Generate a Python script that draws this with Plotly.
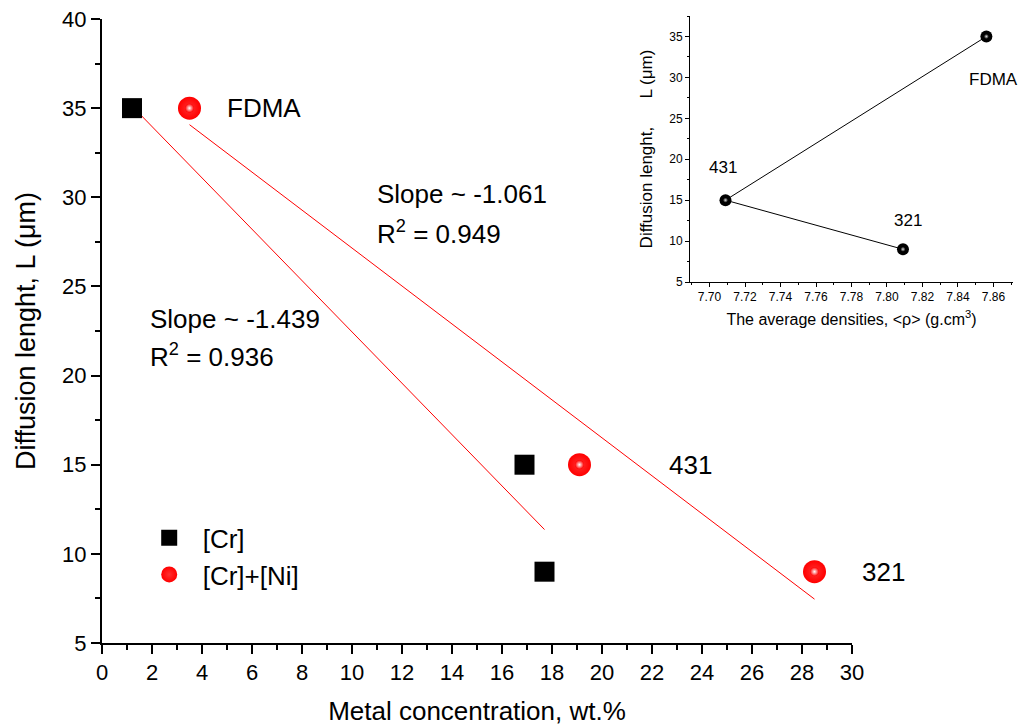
import numpy as np
import plotly.graph_objects as go

# ---- data ----
cr_x = [1.2, 16.9, 17.7]
cr_y = [35, 15, 9]
crni_x = [3.5, 19.1, 28.5]
crni_y = [35, 15, 9]
steel_labels = ["FDMA", "431", "321"]

dens_x = [7.856, 7.709, 7.809]
dens_y = [35, 15, 9]

cr_slope_txt = "Slope ~ -1.439"
cr_r2_txt = "R<sup>2</sup> = 0.936"
crni_slope_txt = "Slope ~ -1.061"
crni_r2_txt = "R<sup>2</sup> = 0.949"

MAIN_FONT = "Liberation Sans, Arial, sans-serif"
NARROW_FONT = "Liberation Sans Narrow, Arial Narrow, Liberation Sans, sans-serif"

PLOT_L, PLOT_R, PLOT_T, PLOT_B = 102, 1013, 15, 643
PW, PH = PLOT_R - PLOT_L, PLOT_B - PLOT_T


def fit_line(xs, ys):
    k, b = np.polyfit(xs, ys, 1)
    xx = np.array([min(xs), max(xs)])
    return xx, k * xx + b


fig = go.Figure()

# fitted lines
fx, fy = fit_line(cr_x, cr_y)
fig.add_trace(go.Scatter(x=fx, y=fy, mode="lines", line=dict(color="red", width=1),
                         showlegend=False, hoverinfo="skip"))
fx, fy = fit_line(crni_x, crni_y)
fig.add_trace(go.Scatter(x=fx, y=fy, mode="lines", line=dict(color="red", width=1),
                         showlegend=False, hoverinfo="skip"))

# markers
fig.add_trace(go.Scatter(x=cr_x, y=cr_y, mode="markers", name="[Cr]",
                         marker=dict(symbol="square", size=20, color="black", line=dict(width=0))))
fig.add_trace(go.Scatter(x=crni_x, y=crni_y, mode="markers", name="[Cr]+[Ni]",
                         marker=dict(symbol="circle", size=23, color="#ff0000", line=dict(width=0),
                                     gradient=dict(type="radial", color="#ff3030"))))
fig.add_trace(go.Scatter(x=crni_x, y=crni_y, mode="markers", showlegend=False, hoverinfo="skip",
                         marker=dict(symbol="circle", size=9, color="#ff0000", line=dict(width=0),
                                     gradient=dict(type="radial", color="white"))))

# inset
fig.add_trace(go.Scatter(x=dens_x, y=dens_y, mode="lines+markers", xaxis="x2", yaxis="y2",
                         showlegend=False, line=dict(color="black", width=1),
                         marker=dict(size=12, color="black")))
fig.add_trace(go.Scatter(x=dens_x, y=dens_y, mode="markers", xaxis="x2", yaxis="y2",
                         showlegend=False, hoverinfo="skip",
                         marker=dict(size=5, color="black", gradient=dict(type="radial", color="#dddddd"))))

annotations = []
txt_font = dict(family=MAIN_FONT, size=26, color="black")
# main labels (FDMA, 431 in data coords; 321 lies beyond the x range -> paper coords)
annotations.append(dict(x=4.9, y=35, xref="x", yref="y", text=steel_labels[0], showarrow=False,
                        xanchor="left", yanchor="middle", font=txt_font))
annotations.append(dict(x=22.6, y=15, xref="x", yref="y", text=steel_labels[1], showarrow=False,
                        xanchor="left", yanchor="middle", font=txt_font))
annotations.append(dict(x=(860 - PLOT_L) / PW, y=9, xref="paper", yref="y", text=steel_labels[2],
                        showarrow=False, xanchor="left", yanchor="middle", font=txt_font))
for t, ax_, ay_ in [(crni_slope_txt, 10.9, 30.17), (crni_r2_txt, 10.9, 28.0),
                    (cr_slope_txt, 1.84, 23.2), (cr_r2_txt, 1.84, 21.1)]:
    annotations.append(dict(x=ax_, y=ay_, xref="x", yref="y", text=t, showarrow=False,
                            xanchor="left", yanchor="middle", font=txt_font))
# inset labels
label_pos_inset = [(7.8600, 29.8), (7.7077, 19.05), (7.8117, 12.55)]
for t, (ax_, ay_) in zip(steel_labels, label_pos_inset):
    annotations.append(dict(x=ax_, y=ay_, xref="x2", yref="y2", text=t, showarrow=False,
                            xanchor="center", yanchor="middle",
                            font=dict(family=NARROW_FONT, size=17, color="black")))

axis_common = dict(showline=True, linecolor="black", showgrid=False, zeroline=False,
                   ticks="outside", tickcolor="black", mirror=False, automargin=False)

fig.update_layout(
    width=1019, height=726,
    paper_bgcolor="white", plot_bgcolor="rgba(0,0,0,0)",
    margin=dict(l=PLOT_L, r=1019 - PLOT_R, t=PLOT_T, b=726 - PLOT_B, autoexpand=False),
    font=dict(family=MAIN_FONT, color="black"),
    xaxis=dict(domain=[0, 750 / PW], range=[0, 30], dtick=2, linewidth=2, tickwidth=2, ticklen=9,
               tickfont=dict(size=22),
               minor=dict(ticks="outside", dtick=1, ticklen=5, tickwidth=2, tickcolor="black"),
               title=dict(text="Metal concentration, wt.%", font=dict(size=26), standoff=18),
               anchor="y", **axis_common),
    yaxis=dict(domain=[0, (PLOT_B - 19) / PH], range=[5, 40], dtick=5, linewidth=2, tickwidth=2,
               ticklen=9, tickfont=dict(size=22),
               minor=dict(ticks="outside", dtick=2.5, ticklen=5, tickwidth=2, tickcolor="black"),
               title=dict(text="Diffusion lenght, L (μm)", font=dict(size=27), standoff=19),
               anchor="x", **axis_common),
    xaxis2=dict(domain=[(690 - PLOT_L) / PW, 1.0], range=[7.689, 7.871], dtick=0.02, tick0=7.70,
                tickformat=".2f", linewidth=1, tickwidth=1, ticklen=4,
                tickfont=dict(size=12, family=NARROW_FONT),
                minor=dict(ticks="outside", dtick=0.01, ticklen=2, tickwidth=1, tickcolor="black"),
                title=dict(text="The average densities, <ρ> (g.cm<sup>3</sup>)",
                           font=dict(size=16, family=NARROW_FONT), standoff=10),
                anchor="y2", **axis_common),
    yaxis2=dict(domain=[(PLOT_B - 282) / PH, (PLOT_B - 16) / PH], range=[5, 37.5], dtick=5,
                linewidth=1, tickwidth=1, ticklen=4,
                tickfont=dict(size=12, family=NARROW_FONT),
                minor=dict(ticks="outside", dtick=2.5, ticklen=2, tickwidth=1, tickcolor="black"),
                title=dict(text="Diffusion lenght,      L (μm)",
                           font=dict(size=17, family=NARROW_FONT), standoff=12),
                anchor="x2", **axis_common),
    legend=dict(x=0.037, y=0.205, xanchor="left", yanchor="top", bgcolor="rgba(0,0,0,0)",
                font=dict(size=26, family=MAIN_FONT), itemwidth=57, tracegroupgap=0),
    annotations=annotations,
)

fig.write_html("out.html", config={"displayModeBar": False},
               post_script="document.body.style.margin='0';document.body.style.overflow='hidden';")
